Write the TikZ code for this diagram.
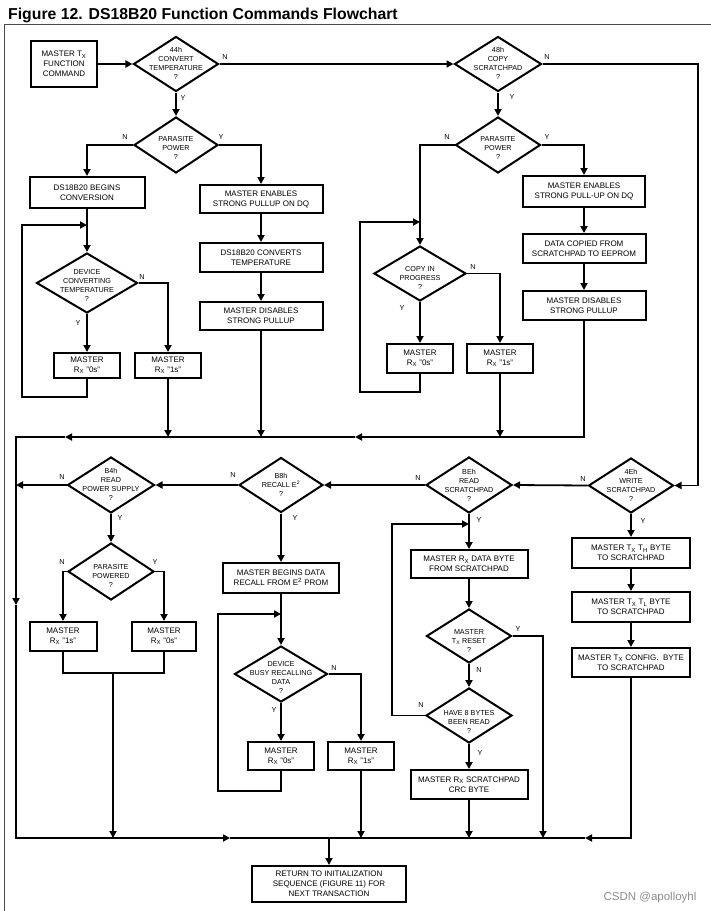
\documentclass[tikz,border=0pt]{standalone}
\usepackage{fontspec}
\setmainfont{Liberation Sans}
\usetikzlibrary{shapes.geometric,arrows.meta}
\newcommand{\bxf}{\fontsize{8}{10}\selectfont}
\newcommand{\dmf}{\fontsize{7.2}{9}\selectfont}
\newcommand{\lbf}{\fontsize{7.2}{8}\selectfont}
\newcommand{\ttlf}{\fontsize{15.8}{18}\selectfont\bfseries}
\newcommand{\sbx}[1]{\textsubscript{#1}}
\tikzset{
 conn/.style={line width=1.8pt},
 arr/.style={conn,-{Triangle[length=7pt,width=7pt]}},
 bx/.style 2 args={draw,line width=2pt,inner sep=0pt,minimum width=#1,minimum height=#2,align=center,font=\bxf},
 dm/.style 2 args={draw,diamond,line width=2pt,inner sep=0pt,minimum width=#1,minimum height=#2},
 dtx/.style={align=center,font=\dmf,inner sep=0pt},
 lb/.style={font=\lbf,inner sep=0pt},
 frameline/.style={draw=black!70,line width=1pt}
}
\begin{document}
\begin{tikzpicture}[x=1pt,y=-1pt]
\useasboundingbox (0,0) rectangle (711,911);
% title and frame
\node[anchor=base west,font=\ttlf,inner sep=0pt] (title) at (8,19) {Figure 12. DS18B20 Function Commands Flowchart};
\coordinate (fr1) at (711,24);
\coordinate (fr2) at (4,24);
\coordinate (fr3) at (4,911);
\draw[frameline] (fr1) -- (fr2) -- (fr3);

% ---------- boxes ----------
\node[bx={66pt}{46pt}] (cmd) at (64,64) {MASTER T\sbx{X}\\FUNCTION\\COMMAND};
\node[bx={115pt}{31pt}] (begin) at (87,192.5) {DS18B20 BEGINS\\CONVERSION};
\node[bx={123pt}{28pt}] (enab1) at (261,199) {MASTER ENABLES\\STRONG PULLUP ON DQ};
\node[bx={123pt}{29pt}] (conv) at (261,257.5) {DS18B20 CONVERTS\\TEMPERATURE};
\node[bx={123pt}{28pt}] (dis1) at (261,316) {MASTER DISABLES\\STRONG PULLUP};
\node[bx={66pt}{25pt}] (r0a) at (87,365.5) {MASTER\\R\sbx{X} "0s"};
\node[bx={66pt}{25pt}] (r1a) at (168,365.5) {MASTER\\R\sbx{X} "1s"};
\node[bx={122pt}{31pt}] (enab2) at (584,191.5) {MASTER ENABLES\\STRONG PULL-UP ON DQ};
\node[bx={123pt}{29pt}] (copied) at (584,248.5) {DATA COPIED FROM\\SCRATCHPAD TO EEPROM};
\node[bx={123pt}{29pt}] (dis2) at (584,305.5) {MASTER DISABLES\\STRONG PULLUP};
\node[bx={66pt}{29pt}] (r0b) at (420,358.5) {MASTER\\R\sbx{X} "0s"};
\node[bx={66pt}{29pt}] (r1b) at (500,358.5) {MASTER\\R\sbx{X} "1s"};
\node[bx={67pt}{29pt}] (r1c) at (63,636.5) {MASTER\\R\sbx{X} "1s"};
\node[bx={64pt}{29pt}] (r0c) at (164,636.5) {MASTER\\R\sbx{X} "0s"};
\node[bx={116pt}{30pt}] (recall) at (281,578) {MASTER BEGINS DATA\\RECALL FROM E\textsuperscript{2} PROM};
\node[bx={66pt}{28pt}] (r0d) at (281,756) {MASTER\\R\sbx{X} "0s"};
\node[bx={66pt}{28pt}] (r1d) at (361,756) {MASTER\\R\sbx{X} "1s"};
\node[bx={117pt}{28pt}] (rdata) at (469,564) {MASTER R\sbx{X} DATA BYTE\\FROM SCRATCHPAD};
\node[bx={117pt}{29pt}] (crc) at (469,784.5) {MASTER R\sbx{X} SCRATCHPAD\\CRC BYTE};
\node[bx={118pt}{30pt}] (th) at (631,553) {MASTER T\sbx{X} T\sbx{H} BYTE\\TO SCRATCHPAD};
\node[bx={118pt}{30pt}] (tl) at (631,607) {MASTER T\sbx{X} T\sbx{L} BYTE\\TO SCRATCHPAD};
\node[bx={118pt}{29pt}] (cfg) at (631,662.5) {MASTER T\sbx{X} CONFIG.\ \ BYTE\\TO SCRATCHPAD};
\node[bx={154pt}{36pt}] (ret) at (329,884) {RETURN TO INITIALIZATION\\SEQUENCE (FIGURE 11) FOR\\NEXT TRANSACTION};

% ---------- diamonds ----------
\node[dm={85pt}{55pt}] (d44) at (176,64) {};
\node[dtx,yshift=1pt] (t44) at (d44) {44h\\CONVERT\\TEMPERATURE\\?};
\node[dm={84pt}{56pt}] (pp1) at (176,145) {};
\node[dtx,yshift=-3pt] (tpp1) at (pp1) {PARASITE\\POWER\\?};
\node[dm={101pt}{60pt}] (dct) at (87,283) {};
\node[dtx,yshift=-2pt] (tdct) at (dct) {DEVICE\\CONVERTING\\TEMPERATURE\\?};
\node[dm={87pt}{55pt}] (d48) at (498,64) {};
\node[dtx,yshift=1pt] (t48) at (d48) {48h\\COPY\\SCRATCHPAD\\?};
\node[dm={85pt}{56pt}] (pp2) at (498,145) {};
\node[dtx,yshift=-3pt] (tpp2) at (pp2) {PARASITE\\POWER\\?};
\node[dm={92pt}{55pt}] (cip) at (420,273.5) {};
\node[dtx,yshift=-4pt] (tcip) at (cip) {COPY IN\\PROGRESS\\?};
\node[dm={85pt}{55pt}] (d4e) at (631,485.5) {};
\node[dtx] (t4e) at (d4e) {4Eh\\WRITE\\SCRATCHPAD\\?};
\node[dm={86pt}{56pt}] (dbe) at (469,485) {};
\node[dtx] (tbe) at (dbe) {BEh\\READ\\SCRATCHPAD\\?};
\node[dm={84pt}{55pt}] (db8) at (281,485) {};
\node[dtx] (tb8) at (db8) {B8h\\RECALL E\textsuperscript{2}\\?};
\node[dm={87pt}{56pt}] (db4) at (111,485) {};
\node[dtx,yshift=1pt] (tb4) at (db4) {B4h\\READ\\POWER SUPPLY\\?};
\node[dm={86pt}{57pt}] (ppw) at (111,571.5) {};
\node[dtx,yshift=-4pt] (tppw) at (ppw) {PARASITE\\POWERED\\?};
\node[dm={93pt}{56pt}] (busy) at (281,674) {};
\node[dtx,yshift=-3pt] (tbusy) at (busy) {DEVICE\\BUSY RECALLING\\DATA\\?};
\node[dm={85pt}{54pt}] (rst) at (469,636) {};
\node[dtx,yshift=-5pt] (trst) at (rst) {MASTER\\T\sbx{X} RESET\\?};
\node[dm={86pt}{55pt}] (h8) at (469,715.5) {};
\node[dtx,yshift=-6pt] (th8) at (h8) {HAVE 8 BYTES\\BEEN READ\\?};

% ---------- Y / N labels ----------
\node[lb] (l1) at (225,57) {N};
\node[lb] (l2) at (183,98) {Y};
\node[lb] (l3) at (125,137) {N};
\node[lb] (l4) at (221,137) {Y};
\node[lb] (l5) at (142,277) {N};
\node[lb] (l6) at (78,323) {Y};
\node[lb] (l7) at (547,57) {N};
\node[lb] (l8) at (512,97) {Y};
\node[lb] (l9) at (447,137) {N};
\node[lb] (l10) at (547,137) {Y};
\node[lb] (l11) at (473,267) {N};
\node[lb] (l12) at (402,308) {Y};
\node[lb] (l13) at (583,479) {N};
\node[lb] (l14) at (643,521) {Y};
\node[lb] (l15) at (418,478) {N};
\node[lb] (l16) at (479,520) {Y};
\node[lb] (l17) at (233,475) {N};
\node[lb] (l18) at (295,518) {Y};
\node[lb] (l19) at (62,477) {N};
\node[lb] (l20) at (120,518) {Y};
\node[lb] (l21) at (62,562) {N};
\node[lb] (l22) at (155,562) {Y};
\node[lb] (l23) at (334,668) {N};
\node[lb] (l24) at (274,710) {Y};
\node[lb] (l25) at (518,629) {Y};
\node[lb] (l26) at (479,670) {N};
\node[lb] (l27) at (421,705) {N};
\node[lb] (l28) at (480,753) {Y};

% ---------- helper coordinates ----------
\coordinate (rturn) at (698,64);
\coordinate (lpA) at (22,397);
\coordinate (jA) at (87,225);
\coordinate (lpB) at (360,392);
\coordinate (jB) at (420,222);
\coordinate (lpD) at (218,791);
\coordinate (jD) at (281,614);
\coordinate (lpE) at (392,524);
\coordinate (jE) at (469,524);
\coordinate (ba) at (355,437);
\coordinate (bb) at (65,437);
\coordinate (bc) at (16,605);
\coordinate (bd) at (230,838);
\coordinate (be) at (585,838);
\coordinate (yb) at (543,838);
\coordinate (mrg) at (113,673);

% ---------- connectors: top ----------
\draw[arr] (cmd) -- (d44);
\draw[arr] (d44.east) -- (d48.west);
\draw[arr] (d48.east) -- (rturn) |- (d4e.east);
\draw[arr] (d44.south) -- (pp1.north);
\draw[arr] (pp1.west) -| (begin.north);
\draw[arr] (pp1.east) -| (enab1.north);
\draw[arr] (enab1) -- (conv);
\draw[arr] (conv) -- (dis1);
\draw[arr] (begin.south) -- (dct.north);
\draw[arr] (dct.south) -- (r0a.north);
\draw[arr] (dct.east) -| (r1a.north);
\draw[arr] (r0a.south) |- (lpA) |- (jA);
\draw[arr] (d48.south) -- (pp2.north);
\draw[arr] (pp2.west) -| (cip.north);
\draw[arr] (pp2.east) -| (enab2.north);
\draw[arr] (enab2) -- (copied);
\draw[arr] (copied) -- (dis2);
\draw[arr] (cip.south) -- (r0b.north);
\draw[arr] (cip.east) -| (r1b.north);
\draw[arr] (r0b.south) |- (lpB) |- (jB);

% ---------- bus 1 ----------
\draw[arr] (dis2.south) |- (ba);
\draw[arr] (ba) -- (bb);
\draw[arr] (bb) -| (bc);
\draw[arr] (bc) |- (bd);
\draw[conn] (bd) -- (be);
\draw[arr] (cfg.south) |- (be);
\draw[arr] (r1a.south) -- (r1a.south |- ba);
\draw[arr] (dis1.south) -- (dis1.south |- ba);
\draw[arr] (r1b.south) -- (r1b.south |- ba);

% ---------- middle row ----------
\draw[arr] (d4e.west) -- (dbe.east);
\draw[arr] (dbe.west) -- (db8.east);
\draw[arr] (db8.west) -- (db4.east);
\draw[arr] (db4.west) -- (db4.west -| bc);
\draw[arr] (db4.south) -- (ppw.north);
\draw[arr] (ppw.west) -| (r1c.north);
\draw[arr] (ppw.east) -| (r0c.north);
\draw[conn] (r1c.south) |- (mrg) -| (r0c.south);
\draw[arr] (mrg) -- (mrg |- bd);
\draw[arr] (db8.south) -- (recall.north);
\draw[arr] (recall.south) -- (busy.north);
\draw[arr] (busy.south) -- (r0d.north);
\draw[arr] (busy.east) -| (r1d.north);
\draw[arr] (r0d.south) |- (lpD) |- (jD);
\draw[arr] (r1d.south) -- (r1d.south |- bd);
\draw[arr] (dbe.south) -- (rdata.north);
\draw[arr] (rdata.south) -- (rst.north);
\draw[arr] (rst.south) -- (h8.north);
\draw[arr] (h8.south) -- (crc.north);
\draw[arr] (h8.west) -| (lpE) -- (jE);
\draw[arr] (rst.east) -| (yb);
\draw[arr] (crc.south) -- (crc.south |- bd);
\draw[arr] (d4e.south) -- (th.north);
\draw[arr] (th) -- (tl);
\draw[arr] (tl) -- (cfg);
\draw[arr] (ret.north |- bd) -- (ret.north);

% watermark
\node[font=\fontsize{11.5}{12}\selectfont,text=black!45,inner sep=0pt] (wm) at (650,898) {CSDN @apolloyhl};
\end{tikzpicture}
\end{document}
